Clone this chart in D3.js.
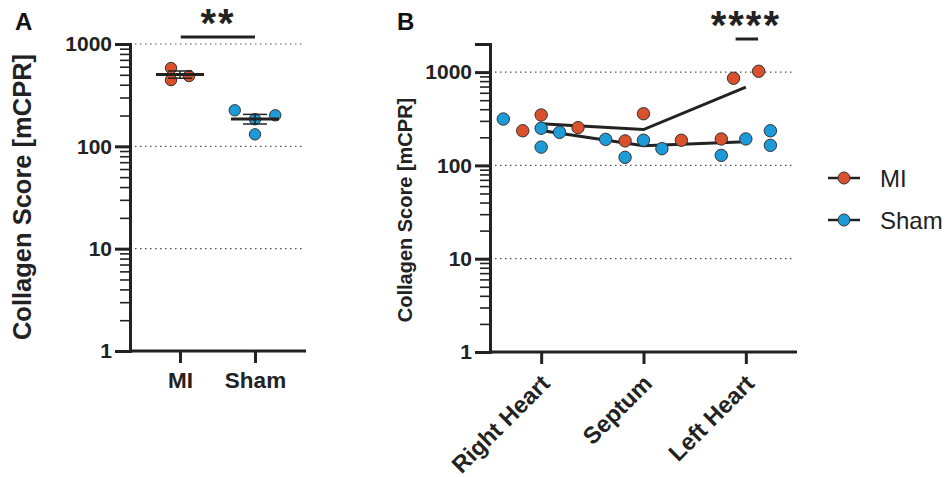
<!DOCTYPE html>
<html>
<head>
<meta charset="utf-8">
<script src="https://cdn.jsdelivr.net/npm/d3@7"></script>
<style>
  body { margin: 0; background: #fff; }
  svg { font-family: "Liberation Sans", Arial, sans-serif; }
</style>
</head>
<body>
<svg id="chart" width="946" height="477"></svg>
<script>
// ---- data ----
// panel A: whole heart
const groupsA = ["MI", "Sham"];
const miA = [582, 444, 486];
const miAJitter = [-0.12, -0.12, 0.12];
const shamA = [225, 184, 201, 131];
const shamAJitter = [-0.27, 0, 0.27, 0];
const starsA = "**";

// panel B: by region
const regions = ["Right Heart", "Septum", "Left Heart"];
const miB = [[235, 347, 254], [183, 358, 186], [192, 859, 1020]];
const miBJitter = [[-0.18, 0, 0.36], [-0.18, 0, 0.37], [-0.24, -0.12, 0.125]];
const shamB = [[314, 250, 157, 226], [190, 122, 186, 151], [128, 192, 235, 164]];
const shamBJitter = [[-0.37, 0, 0, 0.18], [-0.37, -0.18, 0, 0.18], [-0.24, 0, 0.24, 0.24]];
const starsB = "****";

const majorTicks = [1, 10, 100, 1000];
const yTitle = "Collagen Score [mCPR]";

const colors = { MI: "#d9512c", Sham: "#1c9bd8" };

const svg = d3.select("#chart");

function mean(arr) { return d3.mean(arr); }
function sem(arr) { return d3.deviation(arr) / Math.sqrt(arr.length); }

function minorTicksFor(domain) {
    const out = [];
    for (let dec = 1; dec < domain[1]; dec *= 10) {
        for (let k = 2; k <= 9; k++) {
            if (dec * k <= domain[1]) out.push(dec * k);
        }
    }
    return out;
}

//draws the log y axis with long major ticks and short minor ticks, plus dotted grid lines
function drawLogAxis(g, y, xLeft, xRight, gridFrom, gridTo) {
    const minor = minorTicksFor(y.domain());

    g.append("g")
        .attr("transform", `translate(${xLeft},0)`)
        .call(d3.axisLeft(y).tickValues(minor).tickSize(10).tickFormat(""))
        .call(a => a.select(".domain").remove())
        .call(a => a.selectAll("line").attr("stroke", "#222").attr("stroke-width", 1.6));

    //grid lines at decades (not on bottom)
    g.selectAll(".grid")
        .data(majorTicks.filter(t => t > y.domain()[0]))
        .join("line")
        .attr("x1", gridFrom).attr("x2", gridTo)
        .attr("y1", d => y(d)).attr("y2", d => y(d))
        .attr("stroke", "#555")
        .attr("stroke-width", 1.2)
        .attr("stroke-dasharray", "1.5,3.5");

    g.append("g")
        .attr("transform", `translate(${xLeft},0)`)
        .call(d3.axisLeft(y).tickValues(majorTicks).tickSize(15).tickPadding(3).tickFormat(d3.format("d")))
        .call(a => a.select(".domain").attr("stroke", "#222").attr("stroke-width", 3))
        .call(a => a.selectAll("line").attr("stroke", "#222").attr("stroke-width", 3))
        .call(a => a.selectAll("text")
            .attr("fill", "#222")
            .attr("font-size", 21)
            .attr("font-weight", "bold")
            .attr("font-family", "Liberation Sans, Arial, sans-serif"));
}

function drawStars(g, text, cx, cy, x1, x2, barY) {
    g.append("text")
        .attr("x", cx)
        .attr("y", cy)
        .attr("text-anchor", "middle")
        .attr("font-size", 40)
        .attr("font-weight", "bold")
        .attr("letter-spacing", 2)
        .attr("fill", "#222")
        .text(text);
    g.append("line")
        .attr("x1", x1).attr("x2", x2)
        .attr("y1", barY).attr("y2", barY)
        .attr("stroke", "#222").attr("stroke-width", 3);
}

function dot(sel, r, color) {
    sel.attr("r", r)
        .attr("fill", color)
        .attr("stroke", "#333")
        .attr("stroke-width", 1);
}

// ================= panel A =================
{
    const g = svg.append("g");
    const y = d3.scaleLog().domain([1, 1000]).range([351, 44]);
    const x = d3.scaleLinear().domain([-0.667, 1.68]).range([130, 306]);

    drawLogAxis(g, y, 130, 306, 135, 302);

    //x axis
    g.append("g")
        .attr("transform", `translate(0,${y(1)})`)
        .call(d3.axisBottom(x).tickValues([0, 1]).tickSize(12).tickPadding(9).tickFormat(i => groupsA[i]))
        .call(a => a.select(".domain").attr("stroke", "#222").attr("stroke-width", 3).attr("d", `M130,0H306`))
        .call(a => a.selectAll("line").attr("stroke", "#222").attr("stroke-width", 3))
        .call(a => a.selectAll("text")
            .attr("fill", "#222")
            .attr("font-size", 22.5)
            .attr("font-weight", "bold")
            .attr("font-family", "Liberation Sans, Arial, sans-serif"));

    const sets = [
        { name: "MI", values: miA, jitter: miAJitter, idx: 0 },
        { name: "Sham", values: shamA, jitter: shamAJitter, idx: 1 }
    ];

    sets.forEach(s => {
        s.values.forEach((v, i) => {
            g.append("circle")
                .attr("cx", x(s.idx + s.jitter[i]))
                .attr("cy", y(v))
                .call(dot, 5.7, colors[s.name]);
        });

        const m = mean(s.values), e = sem(s.values);
        //error bar
        g.append("line")
            .attr("x1", x(s.idx)).attr("x2", x(s.idx))
            .attr("y1", y(m + e)).attr("y2", y(m - e))
            .attr("stroke", "#222").attr("stroke-width", 1.5);
        [m + e, m - e].forEach(v => {
            g.append("line")
                .attr("x1", x(s.idx - 0.16)).attr("x2", x(s.idx + 0.16))
                .attr("y1", y(v)).attr("y2", y(v))
                .attr("stroke", "#222").attr("stroke-width", 1.5);
        });
        //mean line
        g.append("line")
            .attr("x1", x(s.idx - 0.32)).attr("x2", x(s.idx + 0.32))
            .attr("y1", y(m)).attr("y2", y(m))
            .attr("stroke", "#222").attr("stroke-width", 3);
    });

    drawStars(g, starsA, 218, 37, x(0.01), x(1), 37);

    g.append("text")
        .attr("transform", `translate(31,197) rotate(-90)`)
        .attr("text-anchor", "middle")
        .attr("font-size", 25.5)
        .attr("font-weight", "bold")
        .attr("fill", "#222")
        .text(yTitle);

    g.append("text")
        .attr("x", 15).attr("y", 30)
        .attr("font-size", 24)
        .attr("font-weight", "bold")
        .attr("fill", "#111")
        .text("A");
}

// ================= panel B =================
{
    const g = svg.append("g");
    const y = d3.scaleLog().domain([1, 2000]).range([352, 44]);
    const x = d3.scaleLinear().domain([-0.5, 2.5]).range([490, 797]);

    drawLogAxis(g, y, 490, 797, 495, 795);

    g.append("g")
        .attr("transform", `translate(0,${y(1)})`)
        .call(d3.axisBottom(x).tickValues([0, 1, 2]).tickSize(12).tickFormat(""))
        .call(a => a.select(".domain").attr("stroke", "#222").attr("stroke-width", 3).attr("d", `M490,0H797`))
        .call(a => a.selectAll("line").attr("stroke", "#222").attr("stroke-width", 3));

    g.selectAll(".catlabel")
        .data(regions)
        .join("text")
        .attr("transform", (d, i) => `translate(${x(i) + 10},${y(1) + 33}) rotate(-45)`)
        .attr("text-anchor", "end")
        .attr("font-size", 23.5)
        .attr("font-weight", "bold")
        .attr("fill", "#222")
        .text(d => d);

    const line = d3.line().x(d => x(d[0])).y(d => y(d[1]));
    const series = [
        { name: "MI", values: miB, jitter: miBJitter },
        { name: "Sham", values: shamB, jitter: shamBJitter }
    ];

    //mean lines
    series.forEach(s => {
        g.append("path")
            .datum(s.values.map((vals, i) => [i, mean(vals)]))
            .attr("d", line)
            .attr("fill", "none")
            .attr("stroke", "#222")
            .attr("stroke-width", 3);
    });

    //points
    regions.forEach((r, i) => {
        series.forEach(s => {
            s.values[i].forEach((v, j) => {
                g.append("circle")
                    .attr("cx", x(i + s.jitter[i][j]))
                    .attr("cy", y(v))
                    .call(dot, 6.2, colors[s.name]);
            });
        });
    });

    drawStars(g, starsB, x(2), 39, x(1.9), x(2.12), 39);

    g.append("text")
        .attr("transform", `translate(412,210) rotate(-90)`)
        .attr("text-anchor", "middle")
        .attr("font-size", 20)
        .attr("font-weight", "bold")
        .attr("fill", "#222")
        .text(yTitle);

    g.append("text")
        .attr("x", 397).attr("y", 30)
        .attr("font-size", 24)
        .attr("font-weight", "bold")
        .attr("fill", "#111")
        .text("B");

    //legend
    const legend = g.append("g");
    ["MI", "Sham"].forEach((name, i) => {
        const ly = 178 + i * 42;
        legend.append("line")
            .attr("x1", 828).attr("x2", 860)
            .attr("y1", ly).attr("y2", ly)
            .attr("stroke", "#222").attr("stroke-width", 2.5);
        legend.append("circle")
            .attr("cx", 844).attr("cy", ly)
            .call(dot, 6, colors[name]);
        legend.append("text")
            .attr("x", 880).attr("y", ly + 9)
            .attr("font-size", 24)
            .attr("fill", "#222")
            .text(name);
    });
}
</script>
</body>
</html>
